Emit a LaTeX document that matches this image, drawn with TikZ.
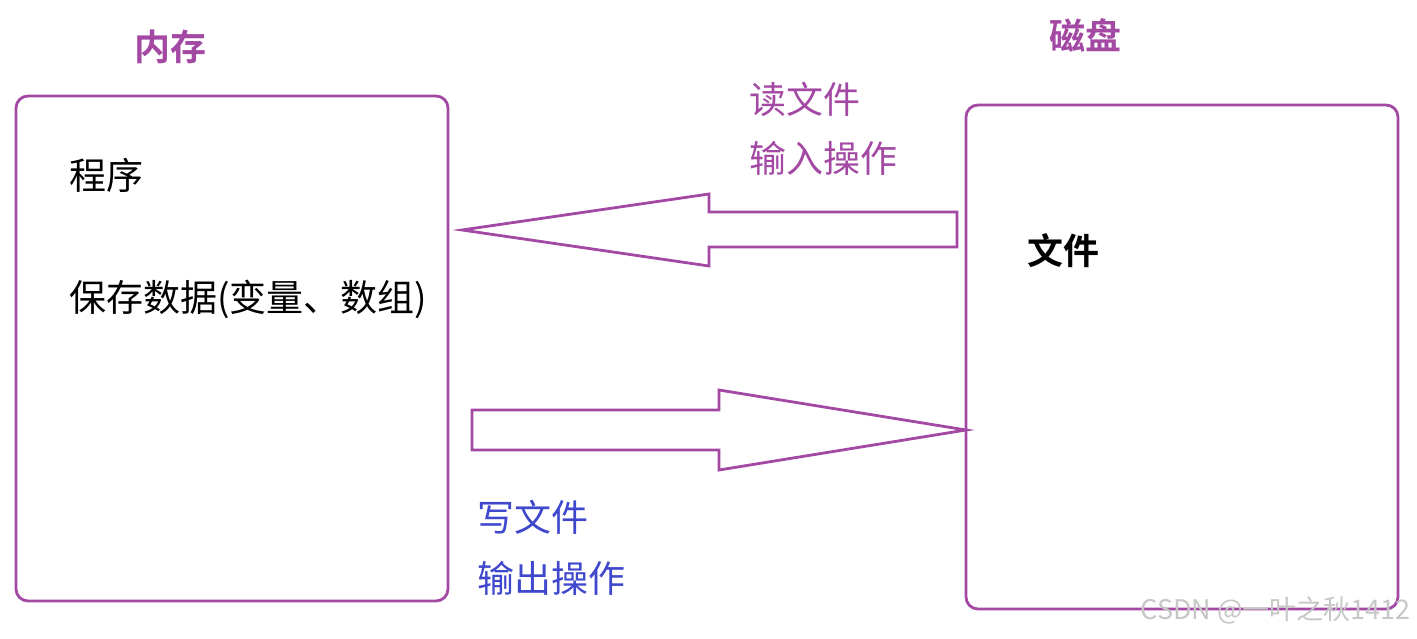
\documentclass[tikz,border=0pt]{standalone}
\usepackage{fontspec}
\setmainfont{Noto Sans CJK SC}
\newfontfamily\cjkb{Noto Sans CJK SC Bold}
\definecolor{ppl}{HTML}{A349A4}
\definecolor{blu}{HTML}{3F48CC}
\begin{document}
\begin{tikzpicture}[x=1pt,y=-1pt,
  box/.style={draw=ppl, line width=2.8pt, rounded corners=12pt, inner sep=0pt, outer sep=0pt},
  blockarrow/.style={draw=ppl, line width=2.8pt, line join=miter},
  title/.style={text=ppl, font=\cjkb\fontsize{36}{42}\selectfont, inner sep=0pt, anchor=west},
  body/.style={font=\fontsize{37}{42}\selectfont, inner sep=0pt, anchor=west},
  lbl/.style={font=\fontsize{37}{42}\selectfont, inner sep=0pt, anchor=west}]
\useasboundingbox (0,0) rectangle (1417,639);
\fill[white] (0,0) rectangle (1417,639);
% boxes
\node[box, minimum width=432pt, minimum height=505pt] (mem) at (232,348.5) {};
\node[box, minimum width=432pt, minimum height=504pt] (disk) at (1182,357) {};
% titles
\node[title] (memt) at (134,47) {内存};
\node[title] (diskt) at (1049,35) {磁盘};
% contents
\node[body] (prog) at (69,175) {程序};
\node[body] (data) at (69,299) {保存数据(变量、数组)};
\node[body, font=\cjkb\fontsize{36}{42}\selectfont] (file) at (1027,251) {文件};
% labels
\node[lbl, text=ppl] (rd1) at (749,99) {读文件};
\node[lbl, text=ppl] (rd2) at (749,158) {输入操作};
\node[lbl, text=blu] (wr1) at (477,517) {写文件};
\node[lbl, text=blu] (wr2) at (477,578) {输出操作};
% arrows
\coordinate (ltip) at (462,230);
\coordinate (rtip) at (disk.west |- 0,430);
\draw[blockarrow] (ltip) -- (709,194) -- (709,212) -- (957,212) -- (957,247) -- (709,247) -- (709,266) -- cycle;
\draw[blockarrow] (rtip) -- (719,390) -- (719,410) -- (472,410) -- (472,450) -- (719,450) -- (719,470) -- cycle;
% watermark
\node[text=black!22, font=\fontsize{27}{30}\selectfont, inner sep=0pt, anchor=east] (wm) at (1411,610) {CSDN @一叶之秋1412};
\end{tikzpicture}
\end{document}
